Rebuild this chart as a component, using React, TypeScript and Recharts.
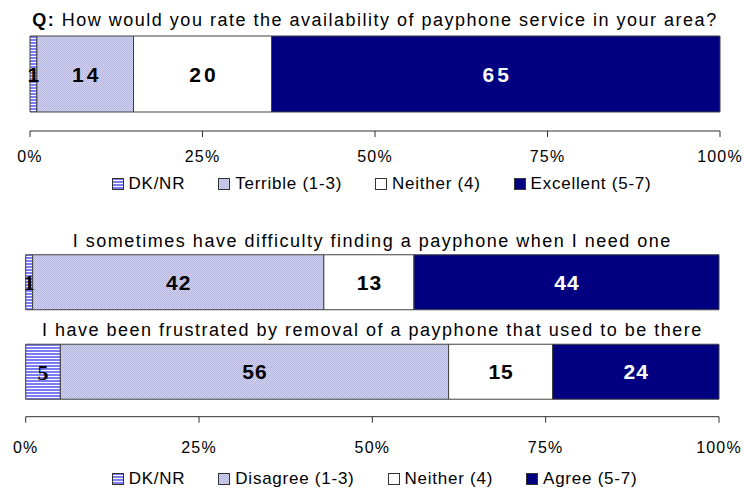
import React from 'react';
import { BarChart, Bar, XAxis, YAxis, LabelList, Legend } from 'recharts';

// ---------- data ----------
const topCategories = ['Q: How would you rate the availability of payphone service in your area?'];
const topDk = [1];
const topTerrible = [14];
const topNeither = [20];
const topExcellent = [65];
const topLegend = ['DK/NR', 'Terrible (1-3)', 'Neither (4)', 'Excellent (5-7)'];

const bottomCategories = [
  'I sometimes have difficulty finding a payphone when I need one',
  'I have been frustrated by removal of a payphone that used to be there',
];
const bottomDk = [1, 5];
const bottomDisagree = [42, 56];
const bottomNeither = [13, 15];
const bottomAgree = [44, 24];
const bottomLegend = ['DK/NR', 'Disagree (1-3)', 'Neither (4)', 'Agree (5-7)'];

const xTicks = [0, 25, 50, 75, 100];

const topData = topCategories.map((name, i) => ({
  name, dk: topDk[i], neg: topTerrible[i], neither: topNeither[i], pos: topExcellent[i],
}));
const bottomData = bottomCategories.map((name, i) => ({
  name, dk: bottomDk[i], neg: bottomDisagree[i], neither: bottomNeither[i], pos: bottomAgree[i],
}));

const SANS = '"Liberation Sans", Arial, Helvetica, sans-serif';
const SERIF = '"Liberation Serif", "Times New Roman", serif';
const NAVY = '#000080';
const EDGE = '#404040';

const W = 743;
const M1 = { top: 17, right: 23, bottom: 29, left: 30 };
const M2 = { top: 37.75, right: 24, bottom: 34.3, left: 25.7 };

const Patterns = ({ p }: { p: string }) => (
  <defs>
    <pattern id={`${p}dk`} width={4} height={3} patternUnits="userSpaceOnUse">
      <rect x={0} y={0} width={4} height={3} fill="#ffffff" />
      <rect x={0} y={0} width={4} height={2} fill="#7b7bf2" />
    </pattern>
    <pattern id={`${p}neg`} width={2} height={2} patternUnits="userSpaceOnUse">
      <rect x={0} y={0} width={2} height={2} fill="#d6d6f2" />
      <rect x={0} y={0} width={1} height={1} fill="#b2b2e0" />
      <rect x={1} y={1} width={1} height={1} fill="#b2b2e0" />
    </pattern>
  </defs>
);

const TitleLabel = (props: any) => {
  const { y, value, cx, off } = props;
  const v = String(value);
  const idx = v.indexOf(': ');
  const common = {
    x: cx, y: y - off, dy: '0.36em', textAnchor: 'middle' as const,
    fontSize: 18, letterSpacing: 1.5, fill: '#000', fontFamily: SANS,
  };
  if (idx > 0) {
    return (
      <text {...common}>
        <tspan fontWeight="bold">{v.slice(0, idx + 1)}</tspan>
        <tspan>{v.slice(idx + 1)}</tspan>
      </text>
    );
  }
  return <text {...common}>{v}</text>;
};

const SegLabel = (props: any) => {
  const { x, y, width, height, value, color, ls, family, size } = props;
  return (
    <text
      x={x + width / 2 + ls / 2}
      y={y + height / 2}
      dy="0.36em"
      textAnchor="middle"
      fontSize={size}
      fontWeight="bold"
      letterSpacing={ls}
      fill={color}
      fontFamily={family}
    >
      {value}
    </text>
  );
};

const LegendBox = ({ labels, fills, shift }: { labels: string[]; fills: string[]; shift: number }) => (
  <div
    style={{
      display: 'flex', justifyContent: 'center', alignItems: 'center', gap: 33,
      fontFamily: SANS, fontSize: 17, letterSpacing: 0.75, color: '#000',
      lineHeight: '20px', height: 20, paddingLeft: shift, whiteSpace: 'nowrap',
    }}
  >
    {labels.map((label, i) => (
      <div key={label} style={{ display: 'flex', alignItems: 'center' }}>
        <svg width={12} height={12} style={{ marginRight: 5, display: 'block' }}>
          <rect x={0.5} y={0.5} width={11} height={11} fill={fills[i]} stroke="#333" strokeWidth={1} />
        </svg>
        <span>{label}</span>
      </div>
    ))}
  </div>
);

export default function App() {
  const cx1 = M1.left + (W - M1.left - M1.right) / 2;
  const cx2 = M2.left + (W - M2.left - M2.right) / 2;

  const renderBars = (p: string, dkFamily: string, ls: number, cx: number, off: number) => [
    <Bar key="dk" dataKey="dk" stackId="a" fill={`url(#${p}dk)`} stroke={EDGE} strokeWidth={1} isAnimationActive={false}>
      <LabelList dataKey="dk" content={(lp: any) => <SegLabel {...lp} color="#000" ls={dkFamily === SERIF ? 0 : ls} family={dkFamily} size={dkFamily === SERIF ? 22 : 21} />} />
      <LabelList dataKey="name" content={(lp: any) => <TitleLabel {...lp} cx={cx} off={off} />} />
    </Bar>,
    <Bar key="neg" dataKey="neg" stackId="a" fill={`url(#${p}neg)`} stroke={EDGE} strokeWidth={1} isAnimationActive={false}>
      <LabelList dataKey="neg" content={(lp: any) => <SegLabel {...lp} color="#000" ls={ls} family={SANS} size={21} />} />
    </Bar>,
    <Bar key="neither" dataKey="neither" stackId="a" fill="#ffffff" stroke={EDGE} strokeWidth={1} isAnimationActive={false}>
      <LabelList dataKey="neither" content={(lp: any) => <SegLabel {...lp} color="#000" ls={ls} family={SANS} size={21} />} />
    </Bar>,
    <Bar key="pos" dataKey="pos" stackId="a" fill={NAVY} stroke={EDGE} strokeWidth={1} isAnimationActive={false}>
      <LabelList dataKey="pos" content={(lp: any) => <SegLabel {...lp} color="#ffffff" ls={ls} family={SANS} size={21} />} />
    </Bar>,
  ];

  const axisProps = {
    type: 'number' as const,
    domain: [0, 100],
    ticks: xTicks,
    interval: 0 as const,
    tickFormatter: (v: number) => `${v}%`,
    height: 40,
    tickSize: 6,
    stroke: '#303030',
    tick: { fill: '#000', fontSize: 16, fontFamily: SANS, letterSpacing: 1.2 },
  };

  return (
    <div style={{ position: 'absolute', left: 0, top: 0, width: W, height: 491, background: '#fff' }}>
      <BarChart width={W} height={200} data={topData} layout="vertical" margin={M1} barCategoryGap={19}>
        <Patterns p="t" />
        <XAxis {...axisProps} tickMargin={14} />
        <YAxis type="category" dataKey="name" hide />
        {renderBars('t', SANS, 3, cx1, 16)}
        <Legend
          layout="horizontal"
          verticalAlign="middle"
          align="center"
          wrapperStyle={{ top: 174, left: 0, width: W }}
          content={() => <LegendBox labels={topLegend} fills={['url(#tdk)', 'url(#tneg)', '#ffffff', NAVY]} shift={20} />}
        />
      </BarChart>
      <BarChart width={W} height={291} data={bottomData} layout="vertical" margin={M2} barCategoryGap={17}>
        <Patterns p="b" />
        <XAxis {...axisProps} tickMargin={19} />
        <YAxis type="category" dataKey="name" hide />
        {renderBars('b', SERIF, 1, cx2, 14.5)}
        <Legend
          layout="horizontal"
          verticalAlign="middle"
          align="center"
          wrapperStyle={{ top: 269, left: 0, width: W }}
          content={() => <LegendBox labels={bottomLegend} fills={['url(#bdk)', 'url(#bneg)', '#ffffff', NAVY]} shift={6} />}
        />
      </BarChart>
    </div>
  );
}
